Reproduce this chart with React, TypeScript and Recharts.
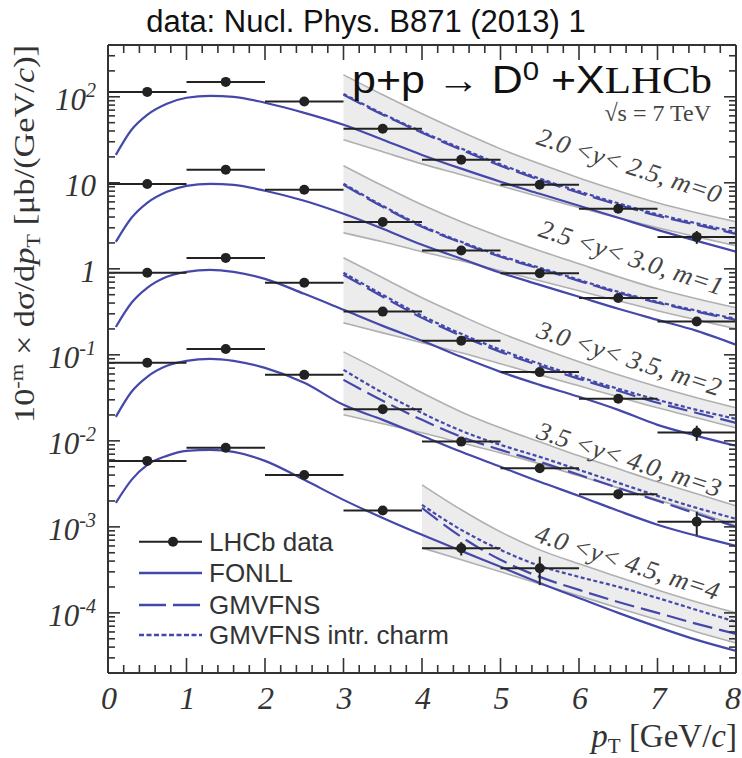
import React from 'react';
import { ComposedChart, Line, Area, Scatter, ErrorBar, XAxis, YAxis } from 'recharts';

// ---------------- data ----------------
const theoryPt = [0.1, 0.3, 0.5, 0.75, 1.0, 1.3, 1.6, 2.0, 2.5, 3.0, 3.5, 4.0, 4.5, 5.0, 5.5, 6.0, 6.5, 7.0, 7.5, 8.0];
const fonll0 = [21.1, 41.4, 61.7, 83, 97.4, 102.7, 100, 85.2, 65.1, 47.3, 31.7, 21.1, 14.6, 10.3, 7.45, 5.4, 3.92, 2.84, 2.11, 1.58];
const fonll1 = [2.06, 3.92, 5.85, 7.86, 9.23, 9.74, 9.48, 8.08, 6.18, 4.36, 2.92, 1.9, 1.31, 0.899, 0.651, 0.473, 0.343, 0.255, 0.19, 0.131];
const fonll2 = [0.211, 0.403, 0.601, 0.808, 0.923, 0.974, 0.923, 0.765, 0.512, 0.334, 0.217, 0.1455, 0.0948, 0.0634, 0.0448, 0.0325, 0.0229, 0.01535, 0.01144, 0.00875];
const fonll3 = [0.019, 0.0372, 0.0555, 0.0745, 0.0852, 0.0899, 0.0852, 0.0706, 0.0473, 0.0262, 0.01754, 0.01144, 0.00745, 0.00499, 0.00334, 0.00229, 0.00154, 0.00106, 0.000786, 0.000601];
const fonll4 = [0.0019, 0.00352, 0.00526, 0.00669, 0.00765, 0.00786, 0.00745, 0.00585, 0.00352, 0.00206, 0.00127, 0.000808, 0.000526, 0.000343, 0.000223, 0.000149, 0.0001, 0.0000687, 0.0000485, 0.0000362];

const gmPt = [3.0, 3.5, 4.0, 4.5, 5.0, 5.5, 6.0, 6.5, 7.0, 7.5, 8.0];
const gmvfns0 = [105.5, 61.7, 38.2, 24.2, 15.8, 10.8, 7.65, 5.55, 4.14, 3.25, 2.55];
const intr0 = [108, 63.4, 39.2, 25.1, 16.4, 11.2, 7.95, 5.78, 4.3, 3.38, 2.66];
const bandHi0 = [180, 105.5, 63.4, 39.2, 24.8, 16.6, 11.4, 8.08, 5.85, 4.48, 3.52];
const bandLo0 = [31.7, 22.9, 16.6, 12.4, 9.23, 6.87, 5.12, 3.92, 3.0, 2.35, 1.85];

const gmvfns1 = [9.48, 5.26, 3.08, 2.01, 1.38, 1.0, 0.725, 0.526, 0.403, 0.317, 0.255];
const intr1 = [9.74, 5.4, 3.16, 2.06, 1.42, 1.03, 0.745, 0.54, 0.414, 0.326, 0.262];
const bandHi1 = [15.8, 9.23, 5.55, 3.52, 2.35, 1.62, 1.144, 0.808, 0.585, 0.448, 0.352];
const bandLo1 = [2.62, 2.06, 1.58, 1.24, 0.948, 0.725, 0.555, 0.425, 0.325, 0.255, 0.2006];

const gmvfns2 = [0.852, 0.473, 0.269, 0.1663, 0.1083, 0.0745, 0.0526, 0.0382, 0.0277, 0.0211, 0.0162];
const intr2 = [0.899, 0.4985, 0.2844, 0.1754, 0.1144, 0.0786, 0.0555, 0.0403, 0.03, 0.0229, 0.018];
const bandHi2 = [1.343, 0.786, 0.46, 0.2844, 0.18, 0.1207, 0.083, 0.0585, 0.0425, 0.0317, 0.0242];
const bandLo2 = [0.2352, 0.18, 0.1379, 0.1055, 0.0786, 0.0585, 0.0436, 0.0325, 0.0242, 0.01852, 0.01417];

const gmvfns3 = [0.0512, 0.0292, 0.01754, 0.01114, 0.00786, 0.0057, 0.00403, 0.00284, 0.00201, 0.00142, 0.001];
const intr3 = [0.0669, 0.0362, 0.0211, 0.01308, 0.00899, 0.00651, 0.0046, 0.00325, 0.00229, 0.00166, 0.00124];
const bandHi3 = [0.1083, 0.0634, 0.0362, 0.0217, 0.01417, 0.00974, 0.00669, 0.00473, 0.00334, 0.00242, 0.00175];
const bandLo3 = [0.0201, 0.01577, 0.0124, 0.00948, 0.00725, 0.0054, 0.00392, 0.00284, 0.00206, 0.00149, 0.00103];

const gmPt4 = [4.0, 4.5, 5.0, 5.5, 6.0, 6.5, 7.0, 7.5, 8.0];
const gmvfns4 = [0.00166, 0.000765, 0.000414, 0.000262, 0.000185, 0.000134, 0.0001, 0.0000745, 0.000057];
const intr4 = [0.0018, 0.000923, 0.00054, 0.000352, 0.000262, 0.000201, 0.000149, 0.000108, 0.0000786];
const bandHi4 = [0.00308, 0.00158, 0.000875, 0.00054, 0.000372, 0.000262, 0.000185, 0.000134, 0.0001];
const bandLo4 = [0.00057, 0.000414, 0.0003, 0.000217, 0.000158, 0.000114, 0.000083, 0.0000601, 0.0000448];

const dataPt = [0.5, 1.5, 2.5, 3.5, 4.5, 5.5, 6.5, 7.5];
const binHalfWidth = 0.5;
const lhcb0 = [114, 149, 88, 42.5, 18.5, 9.5, 5.0, 2.35];
const lhcbErr0 = [2, 3, 2, 1.5, 0.6, 0.4, 0.35, 0.4];
const lhcb1 = [9.7, 14.2, 8.3, 3.5, 1.63, 0.89, 0.457, 0.244];
const lhcbErr1 = [0.2, 0.3, 0.2, 0.12, 0.06, 0.04, 0.03, 0.025];
const lhcb2 = [0.9, 1.34, 0.69, 0.318, 0.146, 0.063, 0.0308, 0.0125];
const lhcbErr2 = [0.02, 0.03, 0.02, 0.012, 0.006, 0.004, 0.003, 0.0025];
const lhcb3 = [0.081, 0.117, 0.0585, 0.0233, 0.0098, 0.0048, 0.0024, 0.00115];
const lhcbErr3 = [0.002, 0.003, 0.0015, 0.001, 0.0005, 0.0004, 0.0003, 0.00035];
const lhcb4 = [0.00585, 0.0083, 0.004, 0.00155, 0.000565, 0.00033];
const lhcbErr4 = [0.00015, 0.0002, 0.0001, 0.00007, 0.0001, 0.00012];

const rapidityLabels = ['2.0 <y<  2.5, m=0', '2.5 <y<  3.0, m=1', '3.0 <y<  3.5, m=2', '3.5 <y<  4.0, m=3', '4.0 <y<  4.5, m=4'];
const legendLabels = ['LHCb data', 'FONLL', 'GMVFNS', 'GMVFNS intr. charm'];
const xTickLabels = [0, 1, 2, 3, 4, 5, 6, 7, 8];
const yDecades = [-4, -3, -2, -1, 0, 1, 2];

// ---------------- style ----------------
const BLUE = '#4548ab';
const INK = '#222';
const AX = '#333';
const BAND_FILL = '#e9e9e9';
const BAND_EDGE = '#b0b0b0';
const SERIF = "'Liberation Serif','Times New Roman',serif";
const SANS = "'Liberation Sans',Arial,sans-serif";
const Y_DOMAIN: [number, number] = [2e-5, 400];

const rows = (xs: number[], ys: number[]) => xs.map((x, i) => ({ x, v: ys[i] }));
const bandRows = (xs: number[], lo: number[], hi: number[]) => xs.map((x, i) => ({ x, r: [lo[i], hi[i]] }));
const pointRows = (xs: number[], ys: number[], es: number[]) =>
  ys.map((y, i) => ({ x: xs[i], y, ex: binHalfWidth, ey: es[i] }));

const sets = [
  { fonll: fonll0, gx: gmPt, gm: gmvfns0, ic: intr0, lo: bandLo0, hi: bandHi0, d: lhcb0, e: lhcbErr0 },
  { fonll: fonll1, gx: gmPt, gm: gmvfns1, ic: intr1, lo: bandLo1, hi: bandHi1, d: lhcb1, e: lhcbErr1 },
  { fonll: fonll2, gx: gmPt, gm: gmvfns2, ic: intr2, lo: bandLo2, hi: bandHi2, d: lhcb2, e: lhcbErr2 },
  { fonll: fonll3, gx: gmPt, gm: gmvfns3, ic: intr3, lo: bandLo3, hi: bandHi3, d: lhcb3, e: lhcbErr3 },
  { fonll: fonll4, gx: gmPt4, gm: gmvfns4, ic: intr4, lo: bandLo4, hi: bandHi4, d: lhcb4, e: lhcbErr4 },
];

// tick positions (axis furniture)
const xTicks: number[] = [];
for (let i = 0; i <= 40; i++) xTicks.push(Math.round(i * 2) / 10);
const yTicks: number[] = [];
for (let d = -5; d <= 2; d++) {
  for (let k = 1; k <= 9; k++) {
    const v = k * Math.pow(10, d);
    if (v >= Y_DOMAIN[0] * 0.999 && v <= Y_DOMAIN[1] * 1.001) yTicks.push(v);
  }
}
const isMajorX = (v: number) => Math.abs(v - Math.round(v)) < 1e-6 && xTickLabels.includes(Math.round(v));
const isMajorY = (v: number) => {
  const lg = Math.log10(v);
  return Math.abs(lg - Math.round(lg)) < 1e-6 && yDecades.includes(Math.round(lg));
};

const XTickBottom = (p: any) => {
  const v = p.payload.value;
  const major = isMajorX(v);
  const last = Math.round(v) === 8;
  return (
    <g>
      <line x1={p.x} x2={p.x} y1={p.y} y2={p.y - (major ? 15 : 8)} stroke={AX} strokeWidth={1.6} />
      {major && (
        <text x={last ? 741 : p.x + 1} y={p.y + 36} textAnchor={last ? 'end' : 'middle'} fontFamily={SERIF} fontStyle="italic" fontSize={32} fill="#333">
          {Math.round(v)}
        </text>
      )}
    </g>
  );
};
const XTickTop = (p: any) => {
  const major = isMajorX(p.payload.value);
  return <line x1={p.x} x2={p.x} y1={p.y} y2={p.y + (major ? 15 : 8)} stroke={AX} strokeWidth={1.6} />;
};
const YTickLeft = (p: any) => {
  const v = p.payload.value;
  const major = isMajorY(v);
  const e = Math.round(Math.log10(v));
  return (
    <g>
      <line x1={p.x} x2={p.x + (major ? 12 : 7)} y1={p.y} y2={p.y} stroke={AX} strokeWidth={1.6} />
      {major && (
        <text x={p.x - 12} y={p.y + 13} textAnchor="end" fontFamily={SERIF} fontStyle="italic" fontSize={31} fill="#333">
          {e === 0 ? '1' : e === 1 ? '10' : (
            <>
              <tspan>10</tspan>
              <tspan dy={-13} fontSize={20}>{String(e)}</tspan>
            </>
          )}
        </text>
      )}
    </g>
  );
};
const YTickRight = (p: any) => {
  const major = isMajorY(p.payload.value);
  return <line x1={p.x} x2={p.x - (major ? 12 : 7)} y1={p.y} y2={p.y} stroke={AX} strokeWidth={1.6} />;
};

const DataDot = (p: any) => <circle cx={p.cx} cy={p.cy} r={5} fill={INK} />;

export default function App() {
  const series: React.ReactElement[] = [];
  sets.forEach((s, m) => {
    series.push(
      <Area key={`band${m}`} data={bandRows(s.gx, s.lo, s.hi)} dataKey="r" type="monotone" fill={BAND_FILL} fillOpacity={0.85}
        stroke="none" isAnimationActive={false} legendType="none" dot={false} activeDot={false} />
    );
  });
  sets.forEach((s, m) => {
    series.push(
      <Line key={`hi${m}`} data={rows(s.gx, s.hi)} dataKey="v" type="monotone" stroke={BAND_EDGE} strokeWidth={1.6}
        dot={false} activeDot={false} isAnimationActive={false} legendType="none" />,
      <Line key={`lo${m}`} data={rows(s.gx, s.lo)} dataKey="v" type="monotone" stroke={BAND_EDGE} strokeWidth={1.6}
        dot={false} activeDot={false} isAnimationActive={false} legendType="none" />
    );
  });
  sets.forEach((s, m) => {
    series.push(
      <Line key={`fonll${m}`} data={rows(theoryPt, s.fonll)} dataKey="v" type="monotone" stroke={BLUE} strokeWidth={2.2}
        dot={false} activeDot={false} isAnimationActive={false} legendType="none" />,
      <Line key={`gm${m}`} data={rows(s.gx, s.gm)} dataKey="v" type="monotone" stroke={BLUE} strokeWidth={2.2}
        strokeDasharray="20 7" dot={false} activeDot={false} isAnimationActive={false} legendType="none" />,
      <Line key={`ic${m}`} data={rows(s.gx, s.ic)} dataKey="v" type="monotone" stroke={BLUE} strokeWidth={2.2}
        strokeDasharray="4 2.5" dot={false} activeDot={false} isAnimationActive={false} legendType="none" />
    );
  });
  sets.forEach((s, m) => {
    series.push(
      <Scatter key={`pts${m}`} data={pointRows(dataPt, s.d, s.e)} dataKey="y" shape={DataDot} isAnimationActive={false} legendType="none">
        <ErrorBar dataKey="ex" direction="x" width={0} stroke={INK} strokeWidth={2} isAnimationActive={false} />
        <ErrorBar dataKey="ey" direction="y" width={0} stroke={INK} strokeWidth={2} isAnimationActive={false} />
      </Scatter>
    );
  });

  const rapPos = [
    [629, 166], [631, 258], [629, 359], [629, 460], [627, 563],
  ];
  const legY = [541.7, 573, 605, 635];

  return (
    <div style={{ position: 'absolute', left: 0, top: 0, width: 742, height: 758, background: '#fff' }}>
      <ComposedChart width={742} height={758} margin={{ top: 44, right: 5, bottom: 45, left: 8 }}>
        <XAxis dataKey="x" type="number" domain={[0, 8]} ticks={xTicks} interval={0} allowDataOverflow
          height={40} tickSize={0} tickMargin={0} tick={(p: any) => <XTickBottom {...p} />}
          axisLine={{ stroke: AX, strokeWidth: 2 }} tickLine={false} />
        <XAxis xAxisId="t" orientation="top" dataKey="x" type="number" domain={[0, 8]} ticks={xTicks} interval={0} allowDataOverflow
          height={1} tickSize={0} tickMargin={0} tick={(p: any) => <XTickTop {...p} />}
          axisLine={{ stroke: AX, strokeWidth: 2 }} tickLine={false} />
        <YAxis type="number" scale="log" domain={Y_DOMAIN} ticks={yTicks} interval={0} allowDataOverflow
          width={100} tickSize={0} tickMargin={0} tick={(p: any) => <YTickLeft {...p} />}
          axisLine={{ stroke: AX, strokeWidth: 2 }} tickLine={false} />
        <YAxis yAxisId="r" orientation="right" type="number" scale="log" domain={Y_DOMAIN} ticks={yTicks} interval={0} allowDataOverflow
          width={1} tickSize={0} tickMargin={0} tick={(p: any) => <YTickRight {...p} />}
          axisLine={{ stroke: AX, strokeWidth: 2 }} tickLine={false} />
        {series}
      </ComposedChart>
      <svg width={742} height={758} style={{ position: 'absolute', left: 0, top: 0, pointerEvents: 'none' }}>
        <text x={366} y={32} textAnchor="middle" fontFamily={SANS} fontSize={31} fill="#111">
          data: Nucl. Phys. B871 (2013) 1
        </text>
        <text x={352} y={93} fontFamily={SANS} fontSize={38} fill="#111" textLength={360} lengthAdjust="spacingAndGlyphs">
          <tspan>p+p → D</tspan>
          <tspan dy={-13} fontSize={26}>0</tspan>
          <tspan dy={13}> +X</tspan>
          <tspan fontFamily={SERIF}>LHCb</tspan>
        </text>
        <text x={711} y={121} textAnchor="end" fontFamily={SERIF} fontSize={24} fill="#444">
          √s = 7 TeV
        </text>
        {rapidityLabels.map((t, i) => (
          <text key={t} x={rapPos[i][0]} y={rapPos[i][1] + 8} textAnchor="middle" fontFamily={SERIF} fontStyle="italic"
            fontSize={26} fill="#444" textLength={192} lengthAdjust="spacingAndGlyphs"
            transform={`rotate(18 ${rapPos[i][0]} ${rapPos[i][1]})`}>
            {t}
          </text>
        ))}
        {/* legend */}
        <line x1={139} x2={202} y1={legY[0]} y2={legY[0]} stroke={INK} strokeWidth={2} />
        <circle cx={173} cy={legY[0]} r={5} fill={INK} />
        <line x1={139} x2={202} y1={legY[1]} y2={legY[1]} stroke={BLUE} strokeWidth={2.5} />
        <line x1={139} x2={202} y1={legY[2]} y2={legY[2]} stroke={BLUE} strokeWidth={2.5} strokeDasharray="27 7" />
        <line x1={139} x2={202} y1={legY[3]} y2={legY[3]} stroke={BLUE} strokeWidth={2.5} strokeDasharray="5 2.5" />
        {legendLabels.map((t, i) => (
          <text key={t} x={209} y={legY[i] + 9} fontFamily={SANS} fontSize={26} fill="#333">{t}</text>
        ))}
        {/* axis titles */}
        <text x={737} y={747} textAnchor="end" fontFamily={SERIF} fontSize={33} fill="#333">
          <tspan fontStyle="italic">p</tspan>
          <tspan dy={6} fontSize={21}>T</tspan>
          <tspan dy={-6}>{'\u00a0[GeV/'}</tspan>
          <tspan fontStyle="italic">c</tspan>
          <tspan>]</tspan>
        </text>
        <text transform="rotate(-90)" x={-234} y={34} textAnchor="middle" fontFamily={SERIF} fontSize={29} fill="#333"
          textLength={378} lengthAdjust="spacingAndGlyphs">
          <tspan>10</tspan>
          <tspan dy={-11} fontSize={19}>-m</tspan>
          <tspan dy={11}> × dσ/d</tspan>
          <tspan fontStyle="italic">p</tspan>
          <tspan dy={6} fontSize={19}>T</tspan>
          <tspan dy={-6}> [μb/(GeV/</tspan>
          <tspan fontStyle="italic">c</tspan>
          <tspan>)]</tspan>
        </text>
      </svg>
    </div>
  );
}
